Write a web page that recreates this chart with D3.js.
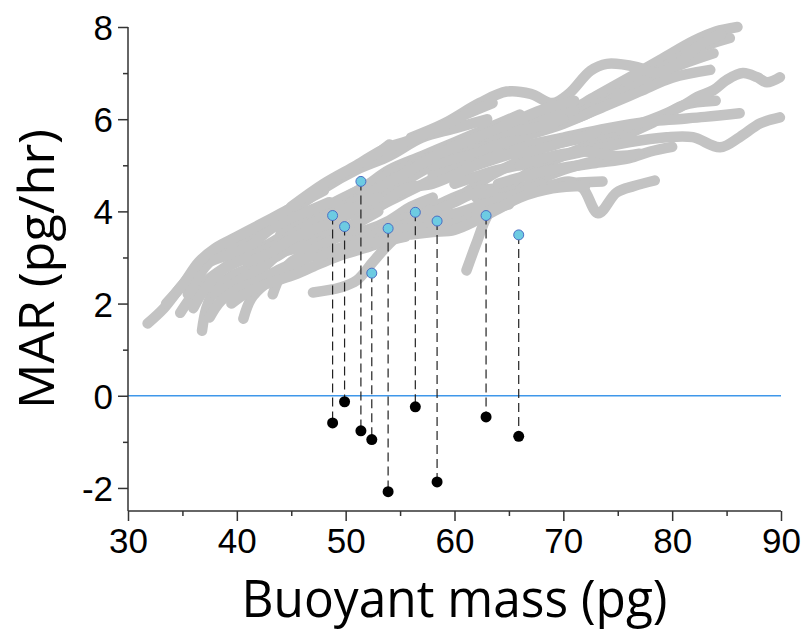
<!DOCTYPE html>
<html>
<head>
<meta charset="utf-8">
<script src="https://cdn.jsdelivr.net/npm/d3@7"></script>
<style>
  html, body { margin: 0; padding: 0; background: #fff; }
  svg { display: block; }
</style>
</head>
<body>
<div id="chart"></div>
<script>
// growth traces: [buoyant mass (pg), MAR (pg/hr)]
const traces = [
  [[31.8,1.57],[33.3,1.9],[34.8,2.35],[36.3,2.75],[38,3.0],[40,3.3],[42,3.6],[44.5,4.0],[47,4.4],[49.5,4.75],[52,5.1],[54,5.45]],
  [[34.8,1.8],[36,2.2],[37.5,2.55],[39,2.8],[41,3.1],[43,3.3],[45,3.6],[47,3.9],[49,4.2],[51.5,4.5],[54,4.9],[57,5.2],[60,5.5],[63,5.8],[66,6.1]],
  [[36.8,1.41],[37.2,1.9],[38,2.3],[39.5,2.6],[41.5,2.8],[43.5,3.0],[45.5,3.3],[47.5,3.5],[50,3.9],[52.5,4.3],[55,4.6],[58,5.0],[61,5.3],[64,5.6]],
  [[40.6,1.67],[41.3,2.1],[42.5,2.4],[44,2.6],[46,2.9],[48,3.3],[50.5,3.7],[53,4.1],[55.5,4.4],[58,4.7]],
  [[47,2.24],[49.5,2.35],[51,2.5],[52.5,2.9],[54,3.3],[56,3.7],[58.5,4.0],[61,4.4],[63.5,4.8],[66,5.1],[69,5.5]],
  [[61.1,2.72],[62,3.3],[63,3.9],[64.5,4.4],[66.5,4.8],[69,5.1],[72,5.4],[75,5.6],[78,5.9],[81,6.3],[84,6.4]],
  [[62,4.3],[65,4.4],[68,4.5],[70.5,4.65],[71.8,4.5],[73.2,3.96],[74.9,4.41],[76.5,4.55],[78.4,4.67]],
  [[55,3.9],[58,4.1],[61,4.4],[64,4.5],[67,4.5],[70,4.6],[73.6,4.65]],
  [[62,5.0],[66,5.3],[70,5.5],[74,5.7],[77,5.9],[80.7,6.26],[82.3,6.48],[83.8,6.63],[85,6.85],[86.5,7.0],[87.8,6.91],[88.7,6.8],[89.9,6.91]],
  [[60,4.6],[64,4.9],[68,5.1],[72,5.3],[76,5.5],[79.5,5.61],[81.9,5.61],[84.4,5.39],[86.2,5.61],[88.1,5.91],[89.9,6.04]],
  [[58,4.8],[62,5.1],[66,5.4],[70,5.6],[74,5.8],[78,5.95],[80.5,6.0],[83,6.05],[86.2,6.13]],
  [[64,5.5],[67,5.8],[70,6.1],[73,6.5],[76,6.9],[79,7.3],[82,7.7],[84,7.9],[86,8.0]],
  [[62,5.3],[66,5.7],[70,6.0],[73,6.3],[76,6.7],[79,7.1],[82,7.5],[85.3,7.76]],
  [[60,5.2],[64,5.5],[68,5.8],[72,6.1],[75,6.5],[78,6.9],[81,7.2],[83.8,7.43]],
  [[58,5.0],[62,5.3],[66,5.6],[70,5.9],[74,6.3],[77,6.6],[80,6.9],[83.5,7.07]],
  [[56,5.6],[59,5.9],[62.3,6.35],[64.8,6.6],[67,6.55],[69,6.35],[70.5,6.55],[72.5,7.05],[74,7.2],[76.8,7.13],[78.6,7.0],[80.5,7.2],[82.5,7.6],[84.5,7.85]],
  [[44,3.5],[47,3.9],[50,4.3],[53,4.7],[56,5.0],[59,5.3],[62,5.5],[65,5.8],[68,6.0],[71,6.2]],
  [[46,3.6],[49,4.0],[52,4.4],[55,4.8],[58,5.2],[61,5.5],[64,5.7],[67,5.8],[70,6.0]],
  [[48.5,3.7],[51,4.0],[53,4.1],[55.5,4.5],[58,4.6],[61,4.9],[64,5.2],[67,5.3],[70,5.5],[73,5.7]],
  [[50,4.1],[53,4.5],[56,4.9],[59,5.3],[62,5.6],[65,5.9],[68,6.2],[71,6.4]],
  [[42,3.6],[45,4.0],[48,4.5],[51,4.9],[54,5.2],[57,5.6],[60,5.8],[63,6.0]],
  [[35.5,2.2],[36.5,2.6],[37.5,2.9],[38.5,3.0],[40,3.1],[41.5,3.3],[43,3.6],[44.5,3.8],[46.5,4.0],[48.5,4.2]],
  [[38,2.2],[39.5,2.4],[41,2.6],[42.5,2.8],[44,3.1],[45.5,3.2],[47,3.3],[48.5,3.4],[50,3.6],[51.5,3.8],[53,4.0]],
  [[43.3,2.2],[44,2.6],[45,2.9],[46.5,3.1],[48,3.3],[50,3.5],[52,3.6],[54,3.8],[56,4.1],[58,4.3]],
  [[52,3.5],[54,3.7],[56,3.9],[58,4.0],[60,4.2],[62,4.4],[64.5,4.3],[67,4.6],[70,4.9],[73,5.1]],
  [[33.5,2.0],[35,2.4],[36.5,2.9],[38,3.2],[40,3.45],[42,3.7],[44,3.95],[46,4.2],[48,4.45]],
  [[36,1.9],[37,2.3],[38.5,2.7],[40.5,2.95],[42.5,3.15],[44.5,3.4],[46.5,3.7],[48.5,3.9],[50.5,4.1]],
  [[37.5,1.7],[38.5,2.05],[40,2.3],[42,2.5],[44,2.75],[46,2.95],[48,3.1],[50,3.25],[52,3.45],[54,3.6]],
  [[39.5,2.0],[41,2.25],[43,2.45],[45,2.6],[47,2.8],[49,3.0],[51,3.15],[53,3.3],[55,3.5],[57,3.7],[59,3.8]],
  [[41,2.9],[43,3.1],[45,3.4],[47,3.6],[49,3.8],[51,4.1],[53,4.3]],
  [[50,3.3],[52,3.45],[54,3.6],[56,3.75],[58,3.85],[60,3.95],[62,4.1],[64,4.25],[66,4.4],[68,4.6]],
  [[53,3.4],[55,3.6],[57,3.65],[59,3.7],[61,3.8],[63,4.0],[65,4.15]],
  [[56,3.5],[58,3.55],[60,3.6],[62,3.8],[64,4.05],[66,4.3],[69,4.5],[72,4.55]],
  [[47.5,3.0],[49.5,3.2],[51.5,3.3],[53.5,3.35],[55.5,3.45]],
  [[64,4.6],[67,4.8],[70,4.95],[73,5.05],[76,5.15],[78,5.3],[80,5.4]],
  [[66,5.0],[69,5.2],[72,5.3],[75,5.2],[77,5.25]],
  [[45,4.1],[48,4.6],[51,5.0],[53.5,5.35],[56,5.55],[58.5,5.8],[61,6.1],[63.5,6.35]]
];

// birth points (blue) and their paired values (black)
const massBirth = [48.8, 49.9, 51.4, 52.4, 53.9, 56.4, 58.4, 62.9, 65.9];
const marBirth  = [3.91, 3.67, 4.65, 2.66, 3.63, 3.98, 3.79, 3.91, 3.49];
const marLow    = [-0.59, -0.13, -0.76, -0.95, -2.08, -0.24, -1.87, -0.46, -0.88];

const xTicks = [30, 40, 50, 60, 70, 80, 90];
const yTicks = [-2, 0, 2, 4, 6, 8];

const width = 804, height = 631;
const margin = { left: 128, right: 23, top: 27, bottom: 120 };

const svg = d3.select("#chart")
  .append("svg")
  .attr("width", width)
  .attr("height", height);

const x = d3.scaleLinear([30, 90], [margin.left, width - margin.right]);
const y = d3.scaleLinear([-2.5, 8], [height - margin.bottom, margin.top]);

const gray = "#c3c3c3";
const line = d3.line()
  .x((d) => x(d[0]))
  .y((d) => y(d[1]))
  .curve(d3.curveCatmullRom.alpha(0.5));

svg.append("g")
  .selectAll("path")
  .data(traces)
  .join("path")
  .attr("d", line)
  .attr("fill", "none")
  .attr("stroke", gray)
  .attr("stroke-width", 10.5)
  .attr("stroke-linecap", "round")
  .attr("stroke-linejoin", "round");

// zero line
svg.append("line")
  .attr("x1", x(30))
  .attr("x2", x(90))
  .attr("y1", y(0))
  .attr("y2", y(0))
  .attr("stroke", "#3f97ea")
  .attr("stroke-width", 1.5);

const pairs = massBirth.map((m, i) => ({ m: m, hi: marBirth[i], lo: marLow[i] }));

svg.append("g")
  .selectAll("line")
  .data(pairs)
  .join("line")
  .attr("x1", (d) => x(d.m))
  .attr("x2", (d) => x(d.m))
  .attr("y1", (d) => y(d.hi))
  .attr("y2", (d) => y(d.lo))
  .attr("stroke", "#222")
  .attr("stroke-width", 1.2)
  .attr("stroke-dasharray", "9,5");

svg.append("g")
  .selectAll("circle")
  .data(pairs)
  .join("circle")
  .attr("cx", (d) => x(d.m))
  .attr("cy", (d) => y(d.lo))
  .attr("r", 5.5)
  .attr("fill", "#000");

svg.append("g")
  .selectAll("circle")
  .data(pairs)
  .join("circle")
  .attr("cx", (d) => x(d.m))
  .attr("cy", (d) => y(d.hi))
  .attr("r", 5)
  .attr("fill", "#6dcbe2")
  .attr("stroke", "#4a6ec4")
  .attr("stroke-width", 1);

// axes
const axisColor = "#333";
const tickFont = "'Liberation Sans', Arial, sans-serif";

const xAxis = svg.append("g")
  .attr("transform", `translate(0,${y(-2.5)})`)
  .call(d3.axisBottom(x).tickValues(d3.range(30, 91, 5)).tickSize(10).tickFormat(""));
xAxis.selectAll(".tick line")
  .attr("y2", (d) => (d % 10 === 0 ? 10 : 5));
xAxis.select(".domain").attr("d", `M${x(30)},0H${x(90)}`);

xAxis.selectAll(".tick")
  .filter((d) => xTicks.includes(d))
  .append("text")
  .attr("y", 42)
  .attr("fill", "#000")
  .attr("text-anchor", "middle")
  .style("font-family", tickFont)
  .style("font-size", "35px")
  .text((d) => d);

const yAxis = svg.append("g")
  .attr("transform", `translate(${x(30)},0)`)
  .call(d3.axisLeft(y).tickValues(d3.range(-2, 9, 1)).tickSize(10).tickFormat(""));
yAxis.selectAll(".tick line")
  .attr("x2", (d) => (d % 2 === 0 ? -10 : -5));
yAxis.select(".domain").attr("d", `M0,${y(8)}V${y(-2.5)}`);

yAxis.selectAll(".tick")
  .filter((d) => yTicks.includes(d))
  .append("text")
  .attr("x", -15)
  .attr("dy", "0.36em")
  .attr("fill", "#000")
  .attr("text-anchor", "end")
  .style("font-family", tickFont)
  .style("font-size", "35px")
  .text((d) => d);

svg.selectAll(".domain, .tick line")
  .attr("stroke", axisColor)
  .attr("stroke-width", 1.5);
svg.selectAll(".tick text").attr("font-size", null).attr("font-family", null);

// axis titles
const titleFont = "'Open Sans', 'Noto Sans', sans-serif";
svg.append("text")
  .attr("x", (x(30) + x(90)) / 2)
  .attr("y", 617)
  .attr("text-anchor", "middle")
  .attr("textLength", 426)
  .attr("lengthAdjust", "spacingAndGlyphs")
  .style("font-family", titleFont)
  .style("font-size", "51px")
  .text("Buoyant mass (pg)");

svg.append("text")
  .attr("transform", `translate(54,${(y(8) + y(-2.5)) / 2}) rotate(-90)`)
  .attr("text-anchor", "middle")
  .attr("textLength", 280)
  .attr("lengthAdjust", "spacingAndGlyphs")
  .style("font-family", titleFont)
  .style("font-size", "50px")
  .text("MAR (pg/hr)");
</script>
</body>
</html>
